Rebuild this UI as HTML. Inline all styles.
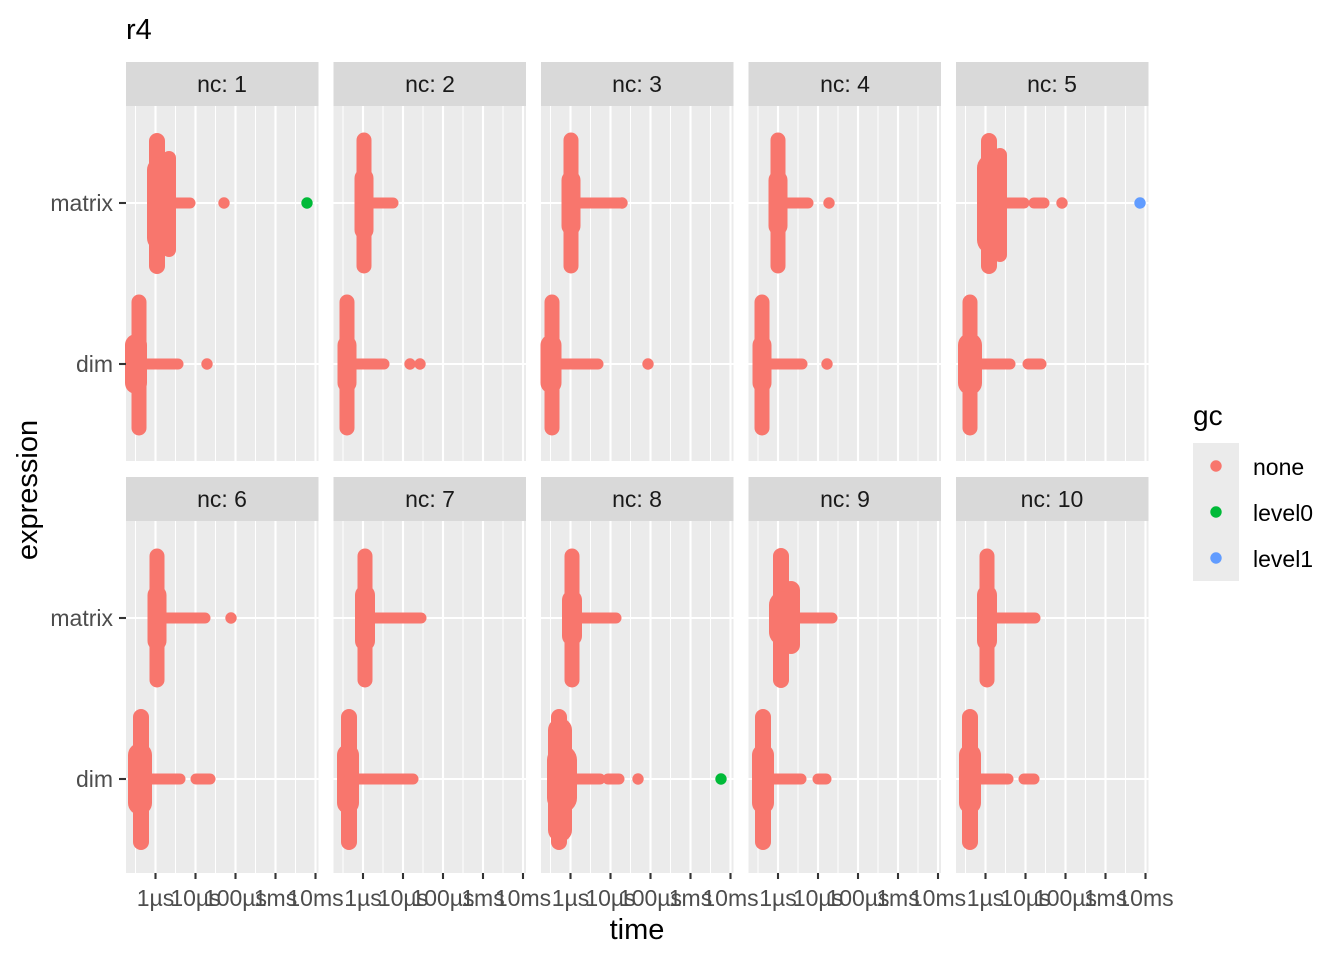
<!DOCTYPE html>
<html><head><meta charset="utf-8"><style>
html,body{margin:0;padding:0;background:#fff;}
svg{display:block;font-family:"Liberation Sans",Arial,sans-serif;}
.tk{font-size:23px;fill:#4D4D4D;}
.st{font-size:23px;fill:#1A1A1A;}
</style></head><body>
<svg width="1344" height="960" viewBox="0 0 1344 960">
<defs>
<g id="bg">
<rect x="0" y="0" width="192.5" height="355" fill="#EBEBEB"/>
<g stroke="#fff" stroke-width="1">
<line x1="9.5" y1="0" x2="9.5" y2="355"/><line x1="49.5" y1="0" x2="49.5" y2="355"/><line x1="89.5" y1="0" x2="89.5" y2="355"/><line x1="129.5" y1="0" x2="129.5" y2="355"/><line x1="169.5" y1="0" x2="169.5" y2="355"/>
</g>
<g stroke="#fff" stroke-width="2.1">
<line x1="29.5" y1="0" x2="29.5" y2="355"/><line x1="69.5" y1="0" x2="69.5" y2="355"/><line x1="109.5" y1="0" x2="109.5" y2="355"/><line x1="149.5" y1="0" x2="149.5" y2="355"/><line x1="189.5" y1="0" x2="189.5" y2="355"/>
<line x1="0" y1="97" x2="192.5" y2="97"/><line x1="0" y1="258" x2="192.5" y2="258"/>
</g>
</g>
<g id="bgb">
<rect x="0" y="0" width="192.5" height="352" fill="#EBEBEB"/>
<g stroke="#fff" stroke-width="1">
<line x1="9.5" y1="0" x2="9.5" y2="352"/><line x1="49.5" y1="0" x2="49.5" y2="352"/><line x1="89.5" y1="0" x2="89.5" y2="352"/><line x1="129.5" y1="0" x2="129.5" y2="352"/><line x1="169.5" y1="0" x2="169.5" y2="352"/>
</g>
<g stroke="#fff" stroke-width="2.1">
<line x1="29.5" y1="0" x2="29.5" y2="352"/><line x1="69.5" y1="0" x2="69.5" y2="352"/><line x1="109.5" y1="0" x2="109.5" y2="352"/><line x1="149.5" y1="0" x2="149.5" y2="352"/><line x1="189.5" y1="0" x2="189.5" y2="352"/>
<line x1="0" y1="97" x2="192.5" y2="97"/><line x1="0" y1="258" x2="192.5" y2="258"/>
</g>
</g>
<g id="xt">
<g stroke="#333" stroke-width="2.1">
<line x1="29.5" y1="0" x2="29.5" y2="6"/><line x1="69.5" y1="0" x2="69.5" y2="6"/><line x1="109.5" y1="0" x2="109.5" y2="6"/><line x1="149.5" y1="0" x2="149.5" y2="6"/><line x1="189.5" y1="0" x2="189.5" y2="6"/>
</g>
</g>
</defs>

<text x="126" y="39" font-size="29" fill="#000">r4</text>

<g>
<rect x="126" y="62" width="192.5" height="44" fill="#D9D9D9"/>
<rect x="333.5" y="62" width="192.5" height="44" fill="#D9D9D9"/>
<rect x="541" y="62" width="192.5" height="44" fill="#D9D9D9"/>
<rect x="748.5" y="62" width="192.5" height="44" fill="#D9D9D9"/>
<rect x="956" y="62" width="192.5" height="44" fill="#D9D9D9"/>
<rect x="126" y="477" width="192.5" height="44" fill="#D9D9D9"/>
<rect x="333.5" y="477" width="192.5" height="44" fill="#D9D9D9"/>
<rect x="541" y="477" width="192.5" height="44" fill="#D9D9D9"/>
<rect x="748.5" y="477" width="192.5" height="44" fill="#D9D9D9"/>
<rect x="956" y="477" width="192.5" height="44" fill="#D9D9D9"/>
</g>
<g class="st" text-anchor="middle">
<text x="222" y="92">nc: 1</text><text x="430" y="92">nc: 2</text><text x="637" y="92">nc: 3</text><text x="845" y="92">nc: 4</text><text x="1052" y="92">nc: 5</text>
<text x="222" y="507">nc: 6</text><text x="430" y="507">nc: 7</text><text x="637" y="507">nc: 8</text><text x="845" y="507">nc: 9</text><text x="1052" y="507">nc: 10</text>
</g>

<use href="#bg" x="126" y="106"/><use href="#bg" x="333.5" y="106"/><use href="#bg" x="541" y="106"/><use href="#bg" x="748.5" y="106"/><use href="#bg" x="956" y="106"/>
<use href="#bgb" x="126" y="521"/><use href="#bgb" x="333.5" y="521"/><use href="#bgb" x="541" y="521"/><use href="#bgb" x="748.5" y="521"/><use href="#bgb" x="956" y="521"/>

<g stroke="#F8766D" stroke-linecap="round" fill="none">
<!-- P1 -->
<line x1="157" y1="141" x2="157" y2="266" stroke-width="16"/>
<line x1="169" y1="158" x2="169" y2="250" stroke-width="14"/>
<line x1="160" y1="170" x2="160" y2="238" stroke-width="26"/>
<line x1="160" y1="203" x2="190" y2="203" stroke-width="11"/>
<line x1="139" y1="302" x2="139" y2="428" stroke-width="15"/>
<line x1="136" y1="345" x2="136" y2="383" stroke-width="22"/>
<line x1="139" y1="364" x2="178" y2="364" stroke-width="11"/>
<!-- P2 -->
<line x1="364" y1="140" x2="364" y2="266" stroke-width="15"/>
<line x1="364" y1="178" x2="364" y2="230" stroke-width="19"/>
<line x1="364" y1="203" x2="393" y2="203" stroke-width="11"/>
<line x1="347" y1="302" x2="347" y2="428" stroke-width="15"/>
<line x1="347" y1="345" x2="347" y2="383" stroke-width="19"/>
<line x1="347" y1="364" x2="384" y2="364" stroke-width="11"/>
<!-- P3 -->
<line x1="571" y1="140" x2="571" y2="266" stroke-width="15"/>
<line x1="571" y1="180" x2="571" y2="226" stroke-width="19"/>
<line x1="571" y1="203" x2="620" y2="203" stroke-width="11"/>
<line x1="552" y1="302" x2="552" y2="428" stroke-width="15"/>
<line x1="551" y1="345" x2="551" y2="383" stroke-width="21"/>
<line x1="552" y1="364" x2="598" y2="364" stroke-width="11"/>
<!-- P4 -->
<line x1="778" y1="140" x2="778" y2="266" stroke-width="15"/>
<line x1="778" y1="180" x2="778" y2="226" stroke-width="19"/>
<line x1="778" y1="203" x2="808" y2="203" stroke-width="11"/>
<line x1="762" y1="302" x2="762" y2="428" stroke-width="15"/>
<line x1="762" y1="345" x2="762" y2="383" stroke-width="19"/>
<line x1="762" y1="364" x2="802" y2="364" stroke-width="11"/>
<!-- P5 -->
<line x1="989" y1="141" x2="989" y2="266" stroke-width="16"/>
<line x1="1000" y1="155" x2="1000" y2="255" stroke-width="14"/>
<line x1="991" y1="168" x2="991" y2="240" stroke-width="28"/>
<line x1="991" y1="203" x2="1024" y2="203" stroke-width="11"/>
<line x1="1034" y1="203" x2="1044" y2="203" stroke-width="11"/>
<line x1="970" y1="302" x2="970" y2="428" stroke-width="15"/>
<line x1="970" y1="345" x2="970" y2="383" stroke-width="24"/>
<line x1="970" y1="364" x2="1010" y2="364" stroke-width="11"/>
<line x1="1028" y1="364" x2="1041" y2="364" stroke-width="11"/>
<!-- P6 -->
<line x1="157" y1="556" x2="157" y2="680" stroke-width="15"/>
<line x1="157" y1="595" x2="157" y2="641" stroke-width="19"/>
<line x1="157" y1="618" x2="205" y2="618" stroke-width="11"/>
<line x1="141" y1="717" x2="141" y2="842" stroke-width="16"/>
<line x1="140" y1="755" x2="140" y2="803" stroke-width="24"/>
<line x1="141" y1="779" x2="180" y2="779" stroke-width="11"/>
<line x1="196" y1="779" x2="210" y2="779" stroke-width="11"/>
<!-- P7 -->
<line x1="365" y1="556" x2="365" y2="680" stroke-width="15"/>
<line x1="365" y1="595" x2="365" y2="641" stroke-width="20"/>
<line x1="365" y1="618" x2="421" y2="618" stroke-width="11"/>
<line x1="349" y1="717" x2="349" y2="842" stroke-width="16"/>
<line x1="348" y1="755" x2="348" y2="803" stroke-width="22"/>
<line x1="349" y1="779" x2="413" y2="779" stroke-width="11"/>
<!-- P8 -->
<line x1="572" y1="556" x2="572" y2="680" stroke-width="15"/>
<line x1="572" y1="600" x2="572" y2="636" stroke-width="20"/>
<line x1="572" y1="618" x2="616" y2="618" stroke-width="11"/>
<line x1="559" y1="717" x2="559" y2="842" stroke-width="16"/>
<line x1="560" y1="730" x2="560" y2="830" stroke-width="24"/>
<line x1="562" y1="760" x2="562" y2="798" stroke-width="30"/>
<line x1="560" y1="779" x2="600" y2="779" stroke-width="11"/>
<line x1="608" y1="779" x2="619" y2="779" stroke-width="11"/>
<!-- P9 -->
<line x1="781" y1="556" x2="781" y2="680" stroke-width="16"/>
<line x1="791" y1="590" x2="791" y2="645" stroke-width="18"/>
<line x1="783" y1="605" x2="783" y2="632" stroke-width="28"/>
<line x1="783" y1="618" x2="832" y2="618" stroke-width="11"/>
<line x1="763" y1="717" x2="763" y2="842" stroke-width="16"/>
<line x1="763" y1="755" x2="763" y2="803" stroke-width="22"/>
<line x1="763" y1="779" x2="801" y2="779" stroke-width="11"/>
<line x1="818" y1="779" x2="826" y2="779" stroke-width="11"/>
<!-- P10 -->
<line x1="987" y1="556" x2="987" y2="680" stroke-width="15"/>
<line x1="987" y1="595" x2="987" y2="641" stroke-width="20"/>
<line x1="987" y1="618" x2="1035" y2="618" stroke-width="11"/>
<line x1="970" y1="717" x2="970" y2="842" stroke-width="16"/>
<line x1="970" y1="755" x2="970" y2="803" stroke-width="22"/>
<line x1="970" y1="779" x2="1008" y2="779" stroke-width="11"/>
<line x1="1024" y1="779" x2="1034" y2="779" stroke-width="11"/>
</g>
<g fill="#F8766D">
<circle cx="224" cy="203" r="5.7"/><circle cx="207" cy="364" r="5.7"/>
<circle cx="410" cy="364" r="5.7"/><circle cx="420" cy="364" r="5.7"/>
<circle cx="622" cy="203" r="5.7"/><circle cx="648" cy="364" r="5.7"/>
<circle cx="829" cy="203" r="5.7"/><circle cx="827" cy="364" r="5.7"/>
<circle cx="1062" cy="203" r="5.7"/>
<circle cx="231" cy="618" r="5.7"/>
<circle cx="638" cy="779" r="5.7"/>
</g>
<circle cx="307" cy="203" r="5.7" fill="#00BA38"/>
<circle cx="721" cy="779" r="5.7" fill="#00BA38"/>
<circle cx="1140" cy="203" r="5.7" fill="#619CFF"/>

<g stroke="#333" stroke-width="2.1">
<line x1="119" y1="203" x2="126" y2="203"/><line x1="119" y1="364" x2="126" y2="364"/>
<line x1="119" y1="618" x2="126" y2="618"/><line x1="119" y1="779" x2="126" y2="779"/>
</g>
<g class="tk" text-anchor="end">
<text x="113" y="211">matrix</text><text x="113" y="372">dim</text>
<text x="113" y="626">matrix</text><text x="113" y="787">dim</text>
</g>

<use href="#xt" x="126" y="873"/><use href="#xt" x="333.5" y="873"/><use href="#xt" x="541" y="873"/><use href="#xt" x="748.5" y="873"/><use href="#xt" x="956" y="873"/>
<g class="tk" text-anchor="middle">
<text x="155.5" y="906">1µs</text><text x="195.5" y="906">10µs</text><text x="235.5" y="906">100µs</text><text x="275.5" y="906">1ms</text><text x="315.5" y="906">10ms</text>
<text x="363" y="906">1µs</text><text x="403" y="906">10µs</text><text x="443" y="906">100µs</text><text x="483" y="906">1ms</text><text x="523" y="906">10ms</text>
<text x="570.5" y="906">1µs</text><text x="610.5" y="906">10µs</text><text x="650.5" y="906">100µs</text><text x="690.5" y="906">1ms</text><text x="730.5" y="906">10ms</text>
<text x="778" y="906">1µs</text><text x="818" y="906">10µs</text><text x="858" y="906">100µs</text><text x="898" y="906">1ms</text><text x="938" y="906">10ms</text>
<text x="985.5" y="906">1µs</text><text x="1025.5" y="906">10µs</text><text x="1065.5" y="906">100µs</text><text x="1105.5" y="906">1ms</text><text x="1145.5" y="906">10ms</text>
</g>

<text x="637" y="939" font-size="29" text-anchor="middle" fill="#000">time</text>
<text x="0" y="0" font-size="29" text-anchor="middle" fill="#000" transform="translate(37,490) rotate(-90)">expression</text>

<text x="1193" y="425" font-size="28" fill="#000">gc</text>
<rect x="1193" y="443" width="46" height="138" fill="#EBEBEB"/>
<circle cx="1216" cy="466" r="5.7" fill="#F8766D"/>
<circle cx="1216" cy="512" r="5.7" fill="#00BA38"/>
<circle cx="1216" cy="558" r="5.7" fill="#619CFF"/>
<g font-size="23" fill="#000">
<text x="1253" y="475">none</text><text x="1253" y="521">level0</text><text x="1253" y="567">level1</text>
</g>
</svg>
</body></html>
